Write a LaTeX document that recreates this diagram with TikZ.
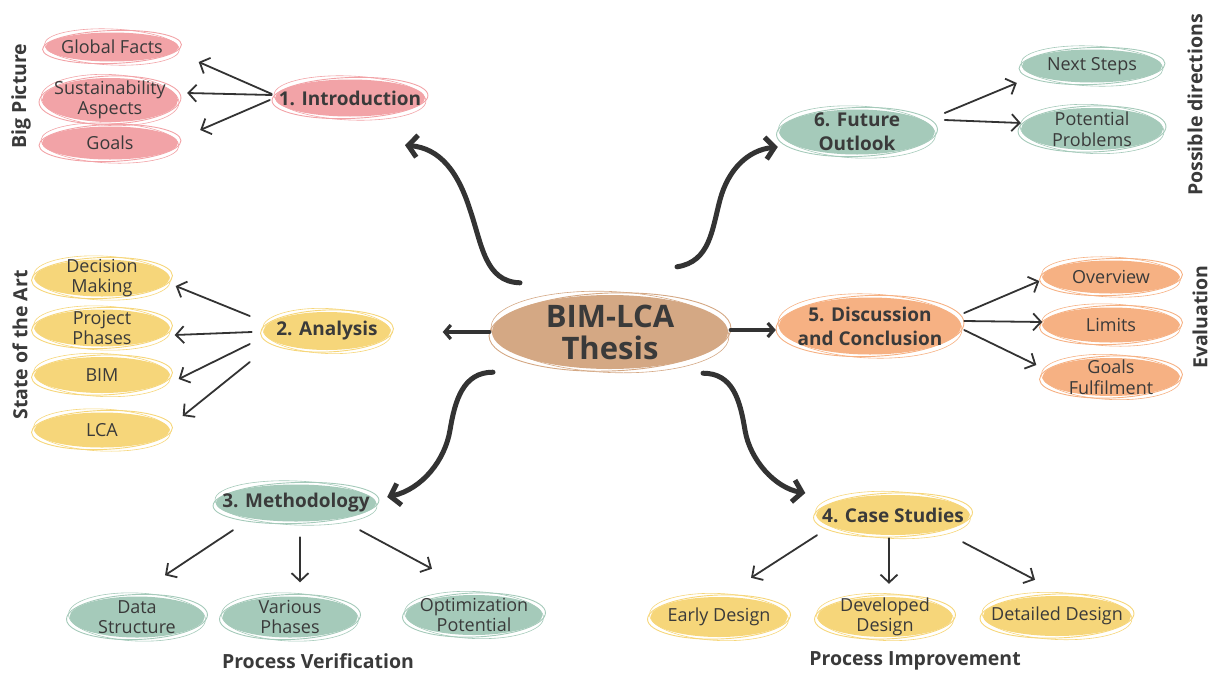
\documentclass[tikz,border=0pt]{standalone}
\usepackage{fontspec}
\setmainfont{Open Sans}
\usetikzlibrary{arrows.meta,calc,shapes.geometric}
\pgfdeclarelayer{background}
\pgfsetlayers{background,main}

\definecolor{ink}{HTML}{3A3A3A}
\definecolor{arrowink}{HTML}{333333}
\definecolor{rose}{HTML}{F2A3A7}
\definecolor{sun}{HTML}{F6D67A}
\definecolor{sage}{HTML}{A5CABA}
\definecolor{peach}{HTML}{F6B183}
\definecolor{tan}{HTML}{D4A884}

\tikzset{
  x=1pt, y=-1pt,
  bubble/.style={ellipse, inner sep=0pt},
  label/.style={inner sep=0pt, text=ink, align=center},
  leaf/.style={label, font=\fontsize{18}{20.5}\selectfont},
  topic/.style={label, font=\bfseries\fontsize{19}{24}\selectfont},
  core/.style={label, font=\bfseries\fontsize{31}{32}\selectfont},
  ring/.style={line width=0.9pt},
  twig/.style={arrowink, line width=1.8pt, line cap=round,
    -{Straight Barb[length=8pt,width=17pt,line width=1.8pt]}},
  branch/.style={arrowink, line width=5pt, line cap=round,
    -{Straight Barb[length=9pt,width=22pt,line width=5pt]}},
  stem/.style={arrowink, line width=3.2pt, line cap=round,
    -{Straight Barb[length=6pt,width=14pt,line width=3.2pt]}},
  caption/.style={text=ink, font=\bfseries\fontsize{19.5}{20}\selectfont, inner sep=0pt},
}

% fixed-size bubble with a hand-drawn double outline and its text on top
% #1 name, #2 text style, #3 centre, #4 width, #5 height, #6 colour, #7 text
\newcommand\bubble[7]{%
  \node[bubble, fill=#6, minimum width=#4pt, minimum height=#5pt] (#1) at (#3) {};
  \node[#2] (#1-text) at (#1.center) {#7};
  \begin{pgfonlayer}{background}
    \draw[ring, #6] (#1.center) ellipse [x radius={#4/2+3}, y radius={#5/2+2}, rotate=2];
    \draw[ring, #6, line width=0.6pt] (#1.center) ellipse [x radius={#4/2+1}, y radius={#5/2+3.5}, rotate=-2.5];
  \end{pgfonlayer}}

\begin{document}
\begin{tikzpicture}
\useasboundingbox (0,0) rectangle (1214,672);

% centre
\bubble{thesis}{core}{610,332}{236}{74}{tan}{BIM-LCA\\Thesis}

% 1. Introduction
\bubble{intro}{topic}{350,98}{150}{37}{rose}{1. Introduction}
\bubble{gf}{leaf}{112,47}{133}{29}{rose}{Global Facts}
\bubble{sa}{leaf}{110,100}{136}{44}{rose}{Sustainability\\Aspects}
\bubble{goals}{leaf}{110,143}{136}{33}{rose}{Goals}

% 2. Analysis
\bubble{analysis}{topic}{327,331}{127}{38}{sun}{2. Analysis}
\bubble{dm}{leaf}{102,278}{135}{37}{sun}{Decision\\Making}
\bubble{pp}{leaf}{102,328}{135}{37}{sun}{Project\\Phases}
\bubble{bim}{leaf}{102,375}{135}{36}{sun}{BIM}
\bubble{lca}{leaf}{102,430}{135}{35}{sun}{LCA}

% 3. Methodology
\bubble{meth}{topic}{296,503}{160}{37}{sage}{3. Methodology}
\bubble{ds}{leaf}{137,617}{135}{41}{sage}{Data\\Structure}
\bubble{vp}{leaf}{290,617}{135}{41}{sage}{Various\\Phases}
\bubble{op}{leaf}{474,615}{137}{40}{sage}{Optimization\\Potential}

% 4. Case Studies
\bubble{cs}{topic}{893,515}{153}{40}{sun}{4. Case Studies}
\bubble{ed}{leaf}{719,617}{137}{40}{sun}{Early Design}
\bubble{dd}{leaf}{885,617}{135}{40}{sun}{Developed\\Design}
\bubble{det}{leaf}{1057,616}{148}{40}{sun}{Detailed Design}

% 5. Discussion and Conclusion
\bubble{disc}{topic}{870,326}{182}{57}{peach}{5. Discussion\\and Conclusion}
\bubble{ov}{leaf}{1111,277}{137}{33}{peach}{Overview}
\bubble{lim}{leaf}{1111,325}{137}{35}{peach}{Limits}
\bubble{gfu}{leaf}{1111,377}{137}{38}{peach}{Goals\\Fulfilment}

% 6. Future Outlook
\bubble{future}{topic}{857,132}{155}{45}{sage}{6. Future\\Outlook}
\bubble{ns}{leaf}{1092,66}{140}{33}{sage}{Next Steps}
\bubble{pprob}{leaf}{1092,129}{142}{42}{sage}{Potential\\Problems}

% group captions
\node[caption, rotate=90] (capbig) at (21,96) {Big Picture};
\node[caption, rotate=90] (capsota) at (20,345) {State of the Art};
\node[caption, rotate=90] (capposs) at (1195,105) {Possible directions};
\node[caption, rotate=90] (capeval) at (1200,317) {Evaluation};
\node[caption] (capver) at (318,661) {Process Verification};
\node[caption] (capimp) at (915,661) {Process Improvement};

% sweeping branches from the centre
\draw[branch] ($(thesis.north)+(-90,-12)$)
  .. controls +(-35,-1) and +(12,35) .. ++(-50,-73)
  .. controls +(-12,-38) and +(35,3) .. ($(intro.south)+(55,28.5)$);
\draw[branch] ($(thesis.north)+(67,-28)$)
  .. controls +(33,-5) and +(-8,30) .. ++(43,-67)
  .. controls +(8,-30) and +(-30,3) .. ($(future.west)+(-1.5,15)$);
\draw[branch] ($(thesis.south)+(-117,3)$)
  .. controls +(-30,0) and +(5,-30) .. ++(-43,58)
  .. controls +(-5,30) and +(35,-8) .. ($(meth.east)+(11,-6)$);
\draw[branch] ($(thesis.south)+(93,4)$)
  .. controls +(30,0) and +(-5,-30) .. ++(42,57)
  .. controls +(5,30) and +(-30,-5) .. ($(cs.west)+(-11,-22)$);
\draw[stem] ($(thesis.west)+(-2,0)$) -- ($(analysis.east)+(52,1)$);
\draw[stem] ($(thesis.east)+(2,-2)$) -- ($(disc.west)+(-3,4)$);

% 1. Introduction
\draw[twig] ($(intro.west)+(-3,-4)$) -- ($(gf.east)+(20,15)$);
\draw[twig] ($(intro.west)+(-3,-3)$) -- ($(sa.east)+(9,-7)$);
\draw[twig] ($(intro.west)+(-5,2)$) -- ($(goals.east)+(22,-13)$);

% 2. Analysis
\draw[twig] ($(analysis.west)+(-13.5,-15)$) -- ($(dm.east)+(6,8)$);
\draw[twig] ($(analysis.west)+(-11.5,1)$) -- ($(pp.east)+(5,7)$);
\draw[twig] ($(analysis.west)+(-13.5,13)$) -- ($(bim.east)+(9,4)$);
\draw[twig] ($(analysis.west)+(-13.5,31)$) -- ($(lca.east)+(13,-14)$);

% 3. Methodology
\draw[twig] ($(meth.south)+(-63,8.5)$) -- ($(ds.north)+(28,-21)$);
\draw[twig] ($(meth.south)+(4,15.5)$) -- ($(vp.north)+(10,-14)$);
\draw[twig] ($(meth.south)+(64,8.5)$) -- ($(op.north)+(-42,-26)$);

% 4. Case Studies
\draw[twig] ($(cs.south)+(-76,0)$) -- ($(ed.north)+(32,-19)$);
\draw[twig] ($(cs.south)+(-4,3)$) -- ($(dd.north)+(4,-13)$);
\draw[twig] ($(cs.south)+(70,7)$) -- ($(det.north)+(-22,-16)$);

% 5. Discussion and Conclusion
\draw[twig] ($(disc.east)+(3,-13)$) -- ($(ov.west)+(-3,4)$);
\draw[twig] ($(disc.east)+(3,-5)$) -- ($(lim.west)+(0,-3)$);
\draw[twig] ($(disc.east)+(3,4)$) -- ($(gfu.west)+(-6,-12)$);

% 6. Future Outlook
\draw[twig] ($(future.east)+(10,-19)$) -- ($(ns.west)+(-5,17)$);
\draw[twig] ($(future.east)+(10,-12)$) -- ($(pprob.west)+(0,-6)$);
\end{tikzpicture}
\end{document}
